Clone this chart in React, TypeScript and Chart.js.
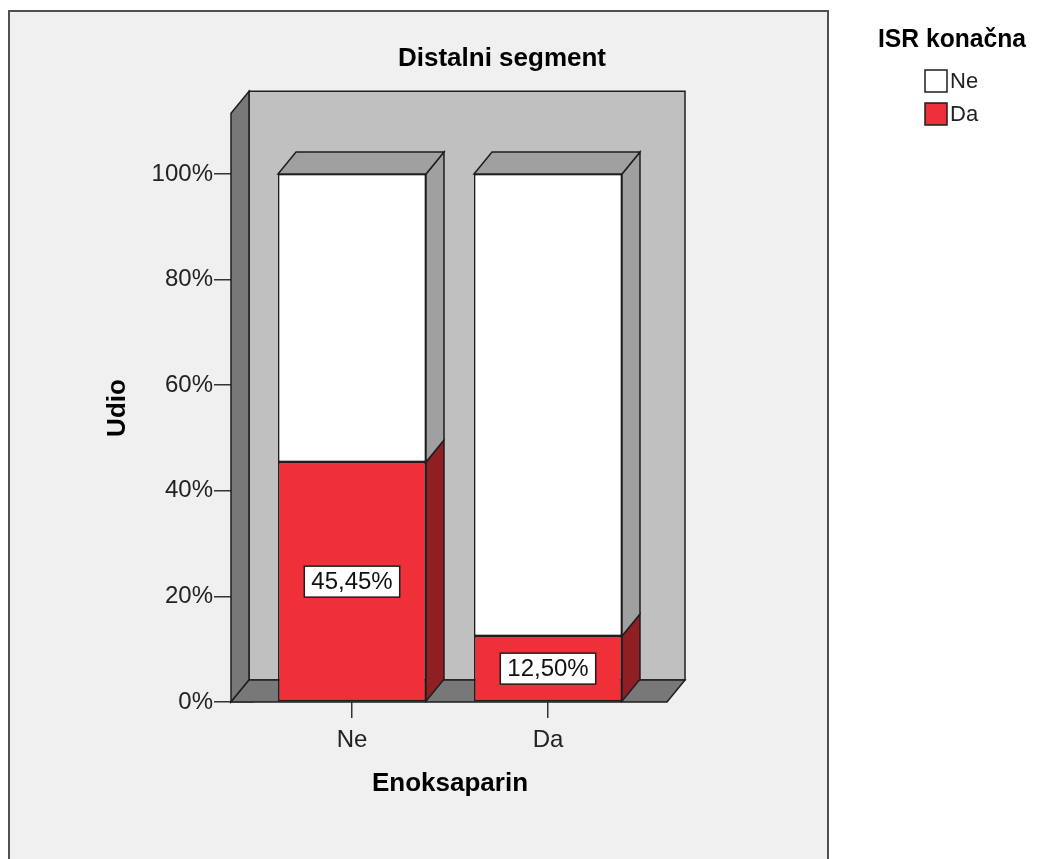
import React, { useEffect, useRef } from "react";
import { Chart, registerables } from "chart.js";

Chart.register(...registerables);

// ---- data ----
const chartTitle = "Distalni segment";
const xAxisTitle = "Enoksaparin";
const yAxisTitle = "Udio";
const legendTitle = "ISR konačna";
const categories = ["Ne", "Da"];
const seriesDaName = "Da";
const seriesNeName = "Ne";
const seriesDa = [45.45, 12.5];
const seriesNe = [54.55, 87.5];
const yTickValues = [0, 20, 40, 60, 80, 100];

// ---- style ----
const FONT = "'Liberation Sans', Arial, Helvetica, sans-serif";
const W = 1021;
const H = 851;
const DX = 18;
const DY = -22;
const WALL_TOP = 111.5;
const FLOOR_PAD_L = 23;
const FLOOR_PAD_R = 21;
const EDGE = "#1e1e1e";
const RED = "#ef3039";
const RED_SIDE = "#901f24";
const WHITE = "#ffffff";
const WHITE_SIDE = "#a0a0a0";
const BACK_WALL = "#c0c0c0";
const SIDE_WALL = "#787878";
const FRAME_BG = "#f0f0f0";

function poly(ctx: CanvasRenderingContext2D, pts: number[][], fill: string) {
  ctx.beginPath();
  ctx.moveTo(pts[0][0], pts[0][1]);
  for (let i = 1; i < pts.length; i++) ctx.lineTo(pts[i][0], pts[i][1]);
  ctx.closePath();
  ctx.fillStyle = fill;
  ctx.fill();
  ctx.strokeStyle = EDGE;
  ctx.lineWidth = 1.5;
  ctx.lineJoin = "miter";
  ctx.stroke();
}

const sides = [RED_SIDE, WHITE_SIDE];

const spssPlugin = {
  id: "spss3d",
  beforeDraw(chart: any) {
    const ctx = chart.ctx as CanvasRenderingContext2D;
    ctx.save();
    ctx.fillStyle = FRAME_BG;
    ctx.fillRect(1, 3, 819, 900);
    ctx.strokeStyle = "#505050";
    ctx.lineWidth = 2;
    ctx.beginPath();
    ctx.moveTo(1, 900);
    ctx.lineTo(1, 3);
    ctx.lineTo(820, 3);
    ctx.lineTo(820, 900);
    ctx.stroke();
    ctx.restore();
  },
  beforeDatasetsDraw(chart: any) {
    const ctx = chart.ctx as CanvasRenderingContext2D;
    const y = chart.scales.y;
    const ca = chart.chartArea;
    const y0 = y.getPixelForValue(0);
    const yt = y.getPixelForValue(WALL_TOP);
    const L = ca.left - FLOOR_PAD_L;
    const R = ca.right + FLOOR_PAD_R;
    ctx.save();
    poly(ctx, [[L + DX, yt + DY], [R + DX, yt + DY], [R + DX, y0 + DY], [L + DX, y0 + DY]], BACK_WALL);
    poly(ctx, [[L, yt], [L + DX, yt + DY], [L + DX, y0 + DY], [L, y0]], SIDE_WALL);
    poly(ctx, [[L, y0], [L + DX, y0 + DY], [R + DX, y0 + DY], [R, y0]], SIDE_WALL);
    ctx.restore();
  },
  afterDatasetsDraw(chart: any) {
    const ctx = chart.ctx as CanvasRenderingContext2D;
    const n = chart.data.datasets.length;
    ctx.save();
    for (let d = 0; d < n; d++) {
      const meta = chart.getDatasetMeta(d);
      meta.data.forEach((el: any) => {
        const left = el.x - el.width / 2;
        const right = el.x + el.width / 2;
        const top = Math.min(el.y, el.base);
        const bottom = Math.max(el.y, el.base);
        poly(ctx, [[right, top], [right + DX, top + DY], [right + DX, bottom + DY], [right, bottom]], sides[d]);
        if (d === n - 1) {
          poly(ctx, [[left, top], [left + DX, top + DY], [right + DX, top + DY], [right, top]], WHITE_SIDE);
        }
      });
    }
    const meta0 = chart.getDatasetMeta(0);
    ctx.font = `24px ${FONT}`;
    ctx.textAlign = "center";
    ctx.textBaseline = "middle";
    meta0.data.forEach((el: any, i: number) => {
      const v = chart.data.datasets[0].data[i] as number;
      const txt = v.toFixed(2).replace(".", ",") + "%";
      const cy = (el.y + el.base) / 2;
      const tw = ctx.measureText(txt).width;
      const bw = tw + 14;
      const bh = 31;
      ctx.fillStyle = "#ffffff";
      ctx.fillRect(el.x - bw / 2, cy - bh / 2, bw, bh);
      ctx.strokeStyle = EDGE;
      ctx.lineWidth = 1.5;
      ctx.strokeRect(el.x - bw / 2, cy - bh / 2, bw, bh);
      ctx.fillStyle = "#111";
      ctx.fillText(txt, el.x, cy + 1);
    });
    ctx.restore();
  },
  afterDraw(chart: any) {
    const ctx = chart.ctx as CanvasRenderingContext2D;
    ctx.save();
    ctx.fillStyle = "#000";
    ctx.font = `bold 26px ${FONT}`;
    ctx.textAlign = "center";
    ctx.textBaseline = "middle";
    ctx.fillText(chartTitle, 494, 51);
    ctx.save();
    ctx.translate(110, 400);
    ctx.rotate(-Math.PI / 2);
    ctx.fillText(yAxisTitle, 0, 0);
    ctx.restore();
    ctx.font = `bold 25px ${FONT}`;
    ctx.fillText(legendTitle, 944, 32, 148);
    const ds = chart.data.datasets;
    const order = [ds.length - 1, 0];
    ctx.font = `22px ${FONT}`;
    ctx.textAlign = "left";
    order.forEach((di: number, k: number) => {
      const bx = 917;
      const by = 62 + k * 33;
      ctx.fillStyle = ds[di].backgroundColor;
      ctx.fillRect(bx, by, 22, 22);
      ctx.strokeStyle = EDGE;
      ctx.lineWidth = 1.5;
      ctx.strokeRect(bx, by, 22, 22);
      ctx.fillStyle = "#222";
      ctx.fillText(ds[di].label, bx + 25, by + 12);
    });
    ctx.restore();
  },
};

export default function App() {
  const ref = useRef<HTMLCanvasElement | null>(null);
  useEffect(() => {
    if (!ref.current) return;
    const chart = new Chart(ref.current, {
      type: "bar",
      data: {
        labels: categories,
        datasets: [
          {
            label: seriesDaName,
            data: seriesDa,
            backgroundColor: RED,
            borderColor: EDGE,
            borderWidth: 1.5,
            borderSkipped: false,
            barPercentage: 0.755,
            categoryPercentage: 1,
          },
          {
            label: seriesNeName,
            data: seriesNe,
            backgroundColor: WHITE,
            borderColor: EDGE,
            borderWidth: 1.5,
            borderSkipped: false,
            barPercentage: 0.755,
            categoryPercentage: 1,
          },
        ],
      },
      options: {
        responsive: false,
        maintainAspectRatio: false,
        animation: false,
        devicePixelRatio: 1,
        layout: { padding: { left: 0, top: 166, right: 383, bottom: 0 } },
        plugins: {
          legend: { display: false },
          tooltip: { enabled: false },
          title: { display: false },
        },
        scales: {
          x: {
            stacked: true,
            offset: true,
            border: { display: false },
            grid: {
              offset: false,
              drawOnChartArea: false,
              drawTicks: true,
              tickLength: 16,
              color: "#333",
              lineWidth: 1.5,
            },
            ticks: {
              color: "#222",
              font: { family: FONT, size: 24 },
              padding: 8,
            },
            title: {
              display: true,
              text: xAxisTitle,
              color: "#000",
              font: { family: FONT, size: 26, weight: "bold" },
              padding: { top: 0, bottom: 60 },
            },
            afterFit: (s: any) => {
              s.height = 157;
            },
          },
          y: {
            stacked: true,
            min: 0,
            max: 100,
            border: { display: false },
            grid: {
              drawOnChartArea: false,
              drawTicks: true,
              tickLength: 40,
              color: "#333",
              lineWidth: 1.5,
            },
            ticks: {
              color: "#222",
              font: { family: FONT, size: 24 },
              padding: 1,
              callback: (v: any) => `${v}%`,
            },
            afterBuildTicks: (s: any) => {
              s.ticks = yTickValues.map((v) => ({ value: v }));
            },
            afterFit: (s: any) => {
              s.width = 246;
            },
          },
        },
      },
      plugins: [spssPlugin],
    });
    return () => chart.destroy();
  }, []);
  return (
    <canvas
      ref={ref}
      width={W}
      height={H}
      style={{ display: "block", width: W, height: H }}
    />
  );
}
